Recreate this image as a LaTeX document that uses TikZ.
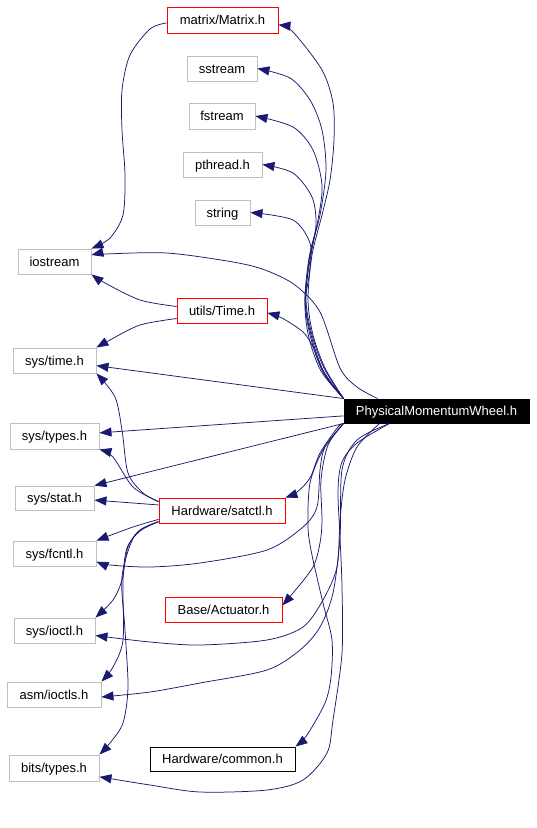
\documentclass[tikz,border=0pt]{standalone}
\usepackage{fontspec}
\setmainfont{Liberation Sans}
\usetikzlibrary{arrows.meta}
\definecolor{depblue}{HTML}{191970}
\definecolor{boxgray}{HTML}{BFBFBF}
\begin{document}
\begin{tikzpicture}[x=1pt,y=-1pt,
  box/.style={draw, line width=0.9pt, inner sep=0pt, font=\fontsize{13}{15}\selectfont, text height=9.3pt, text depth=0pt, text=black, fill=white},
  gbox/.style={box, draw=boxgray},
  rbox/.style={box, draw=red},
  kbox/.style={box, draw=black},
  mainbox/.style={box, draw=black, fill=black, text=white},
  dep/.style={draw=depblue, line width=0.75pt, -{Triangle[length=12pt,width=9pt]}}]
\useasboundingbox (0,0) rectangle (537,828);
% nodes
\node[rbox, minimum width=111pt, minimum height=26pt] (matrix) at (222.5,20) {matrix/Matrix.h};
\node[gbox, minimum width=70pt, minimum height=25pt] (sstream) at (222,68.5) {sstream};
\node[gbox, minimum width=66pt, minimum height=26pt] (fstream) at (222,116) {fstream};
\node[gbox, minimum width=79pt, minimum height=25pt] (pthread) at (222.5,164.5) {pthread.h};
\node[gbox, minimum width=55pt, minimum height=25pt] (string) at (222.5,212.5) {string};
\node[gbox, minimum width=73pt, minimum height=25pt] (iostream) at (54.5,261.5) {iostream};
\node[rbox, minimum width=90pt, minimum height=25pt] (time) at (222,310.5) {utils/Time.h};
\node[gbox, minimum width=83pt, minimum height=25pt] (systime) at (54.5,360.5) {sys/time.h};
\node[mainbox, minimum width=185pt, minimum height=24pt] (pmw) at (436.5,411) {PhysicalMomentumWheel.h};
\node[gbox, minimum width=89pt, minimum height=26pt] (systypes) at (54.5,436) {sys/types.h};
\node[gbox, minimum width=79pt, minimum height=24pt] (sysstat) at (54.5,498) {sys/stat.h};
\node[rbox, minimum width=126pt, minimum height=25pt] (satctl) at (222,510.5) {Hardware/satctl.h};
\node[gbox, minimum width=83pt, minimum height=25pt] (sysfcntl) at (54.5,553.5) {sys/fcntl.h};
\node[rbox, minimum width=117pt, minimum height=25pt] (actuator) at (223.5,609.5) {Base/Actuator.h};
\node[gbox, minimum width=81pt, minimum height=25pt] (sysioctl) at (54.5,630.5) {sys/ioctl.h};
\node[gbox, minimum width=94pt, minimum height=25pt] (asmioctls) at (54,694.5) {asm/ioctls.h};
\node[kbox, minimum width=145pt, minimum height=24pt] (common) at (222.5,759) {Hardware/common.h};
\node[gbox, minimum width=90pt, minimum height=26pt] (bitstypes) at (54,768) {bits/types.h};
% edges from matrix / time / satctl
\draw[dep] plot[smooth] coordinates {(matrix.183) (150,29) (130,55) (122,90) (122,130) (125,175) (123,215) (110,238) (iostream.north east)};
\draw[dep] plot[smooth] coordinates {(time.175) (140,300) (105,283) (iostream.south east)};
\draw[dep] plot[smooth] coordinates {(time.190) (140,325) (110,340) (systime.north east)};
\draw[dep] plot[smooth] coordinates {(satctl.172) (143,493) (128,473) (122,430) (115,397) (systime.south east)};
\draw[dep] plot[smooth] coordinates {(satctl.172) (133,487) (113,457) (systypes.south east)};
\draw[dep] (satctl.175) -- (sysstat.-3);
\draw[dep] plot[smooth] coordinates {(satctl.188) (133,527) (sysfcntl.north east)};
\draw[dep] plot[smooth] coordinates {(satctl.190) (140,530) (128,547) (122,580) (113,600) (sysioctl.north east)};
\draw[dep] plot[smooth] coordinates {(satctl.190) (140,531) (127,548) (123,580) (123,640) (113,667) (asmioctls.north east)};
\draw[dep] plot[smooth] coordinates {(satctl.190) (135,535) (122,577) (125,630) (128,687) (123,723) (110,743) (bitstypes.north east)};
% edges from pmw, upward
\draw[dep] plot[smooth] coordinates {(pmw.north west) (325,368) (313,335) (308,300) (312,255) (322,215) (330,180) (334,140) (333,103) (322,70) (293,32) (matrix.-5)};
\draw[dep] plot[smooth] coordinates {(pmw.north west) (324,368) (312,335) (306,300) (310,255) (320,215) (326,170) (322,130) (310,100) (290,78) (sstream.east)};
\draw[dep] plot[smooth] coordinates {(pmw.north west) (323,370) (311,335) (305,300) (309,258) (318,220) (322,185) (313,150) (293,127) (fstream.east)};
\draw[dep] plot[smooth] coordinates {(pmw.north west) (322,370) (310,335) (305,300) (310,260) (316,225) (312,197) (293,173) (pthread.east)};
\draw[dep] plot[smooth] coordinates {(pmw.north west) (321,371) (309,338) (305,305) (310,268) (310,243) (293,220) (string.east)};
\draw[dep] plot[smooth] coordinates {(pmw.north west) (325,375) (313,347) (303,332) (282,318) (time.-3)};
\draw[dep] plot[smooth] coordinates {([xshift=34pt]pmw.north west) (357,387) (340,368) (320,312) (295,285) (265,270) (233,262) (167,253) (105,254) (iostream.10)};
% straight edges
\draw[dep] (pmw.north west) -- (systime.-7.5);
\draw[dep] (pmw.183.7) -- (systypes.4);
\draw[dep] (pmw.south west) -- (sysstat.north east);
% edges from pmw, downward
\draw[dep] plot[smooth] coordinates {(pmw.south west) (338,427) (320,453) (310,478) (297,492) (satctl.north east)};
\draw[dep] plot[smooth] coordinates {(pmw.south west) (325,447) (320,470) (317,507) (303,527) (267,550) (200,563) (150,567) (110,565) (sysfcntl.-11.6)};
\draw[dep] plot[smooth] coordinates {(pmw.south west) (328,445) (321,480) (322,520) (320,543) (313,567) (293,593) (actuator.4.4)};
\draw[dep] plot[smooth] coordinates {(pmw.south west) (323,450) (310,483) (308,527) (312,555) (323,603) (332,640) (331,677) (325,703) (307,735) (common.north east)};
\draw[dep] plot[smooth] coordinates {([xshift=36pt]pmw.south west) (357,447) (345,480) (340,520) (337,567) (323,600) (303,627) (267,640) (200,645) (150,642) (sysioctl.-7.7)};
\draw[dep] plot[smooth] coordinates {([xshift=46pt]pmw.south west) (357,440) (342,470) (340,537) (333,593) (320,627) (300,650) (267,670) (200,683) (150,692) (asmioctls.-3)};
\draw[dep] plot[smooth] coordinates {([xshift=46pt]pmw.south west) (357,443) (342,462) (338,490) (340,537) (342,587) (342,653) (333,720) (327,753) (303,780) (267,790) (200,792) (150,785) (bitstypes.-11.3)};
\end{tikzpicture}
\end{document}
